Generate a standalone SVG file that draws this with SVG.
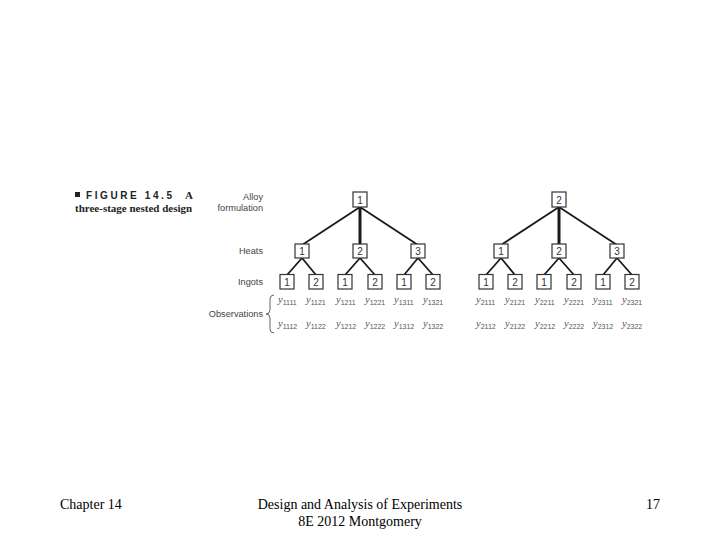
<svg xmlns="http://www.w3.org/2000/svg" width="720" height="540" viewBox="0 0 720 540">
<style>
.box{fill:#fff;stroke:#333;stroke-width:1.2}
.num{font-family:"Liberation Sans",Arial,sans-serif;font-size:10px;fill:#333;text-anchor:middle}
.lbl{font-family:"Liberation Sans",Arial,sans-serif;font-size:9.2px;fill:#444;text-anchor:end}
.ln{stroke:#1a1a1a;stroke-width:1.8;fill:none}
.thick{stroke:#1a1a1a;stroke-width:3;fill:none}
.obs{font-family:"Liberation Serif","Times New Roman",serif;font-style:italic;font-size:10.5px;fill:#555}
.sub{font-family:"Liberation Sans",Arial,sans-serif;font-style:normal;font-size:7px}
.foot{font-family:"Liberation Serif","Times New Roman",serif;font-size:14px;fill:#000}
</style>
<rect width="720" height="540" fill="#fff"/>
<g id="caption">
<rect x="75" y="192" width="5" height="5" fill="#222"/>
<text x="86" y="199" font-family="Liberation Sans,Arial,sans-serif" font-weight="bold" font-size="10" letter-spacing="2.6" fill="#222">FIGURE 14.5</text>
<text x="185" y="199" font-family="Liberation Serif,Times New Roman,serif" font-weight="bold" font-size="11" fill="#222">A</text>
<text x="75" y="212" font-family="Liberation Serif,Times New Roman,serif" font-weight="bold" font-size="11" fill="#222">three-stage nested design</text>
</g>
<g id="labels">
<text class="lbl" x="263" y="200">Alloy</text>
<text class="lbl" x="263" y="211">formulation</text>
<text class="lbl" x="263" y="254">Heats</text>
<text class="lbl" x="263" y="285">Ingots</text>
<text class="lbl" x="263" y="317">Observations</text>
<path d="M274,295 Q270,295 270,299 L270,310 Q270,314 266,314 Q270,314 270,318 L270,329 Q270,333 274,333" fill="none" stroke="#555" stroke-width="0.9"/>
</g>
<g id="connectors">
<path class="ln" d="M360,207 L302,245 M360,207 L418,245"/>
<path class="thick" d="M360,207 L360,245"/>
<path class="ln" d="M302,258 L287,275 M302,258 L316,275 M360,258 L345,275 M360,258 L375,275 M418,258 L404,275 M418,258 L433,275"/>
<path class="ln" d="M559,207 L501,245 M559,207 L617,245"/>
<path class="thick" d="M559,207 L559,245"/>
<path class="ln" d="M501,258 L486,275 M501,258 L515,275 M559,258 L544,275 M559,258 L574,275 M617,258 L603,275 M617,258 L632,275"/>
</g>
<g id="a1"><rect class="box" x="353" y="192" width="14" height="15"/><text class="num" x="360" y="203.5">1</text></g>
<g id="a1h1"><rect class="box" x="295" y="244" width="14" height="14"/><text class="num" x="302" y="254.5">1</text></g>
<g id="a1h2"><rect class="box" x="353" y="244" width="14" height="14"/><text class="num" x="360" y="254.5">2</text></g>
<g id="a1h3"><rect class="box" x="411" y="244" width="14" height="14"/><text class="num" x="418" y="254.5">3</text></g>
<g id="a1h1i1"><rect class="box" x="280" y="274.5" width="14" height="14.5"/><text class="num" x="287" y="285.5">1</text></g>
<g id="a1h1i2"><rect class="box" x="309" y="274.5" width="14" height="14.5"/><text class="num" x="316" y="285.5">2</text></g>
<g id="a1h2i1"><rect class="box" x="338" y="274.5" width="14" height="14.5"/><text class="num" x="345" y="285.5">1</text></g>
<g id="a1h2i2"><rect class="box" x="368" y="274.5" width="14" height="14.5"/><text class="num" x="375" y="285.5">2</text></g>
<g id="a1h3i1"><rect class="box" x="397" y="274.5" width="14" height="14.5"/><text class="num" x="404" y="285.5">1</text></g>
<g id="a1h3i2"><rect class="box" x="426" y="274.5" width="14" height="14.5"/><text class="num" x="433" y="285.5">2</text></g>
<g id="a2"><rect class="box" x="552" y="192" width="14" height="15"/><text class="num" x="559" y="203.5">2</text></g>
<g id="a2h1"><rect class="box" x="494" y="244" width="14" height="14"/><text class="num" x="501" y="254.5">1</text></g>
<g id="a2h2"><rect class="box" x="552" y="244" width="14" height="14"/><text class="num" x="559" y="254.5">2</text></g>
<g id="a2h3"><rect class="box" x="610" y="244" width="14" height="14"/><text class="num" x="617" y="254.5">3</text></g>
<g id="a2h1i1"><rect class="box" x="479" y="274.5" width="14" height="14.5"/><text class="num" x="486" y="285.5">1</text></g>
<g id="a2h1i2"><rect class="box" x="508" y="274.5" width="14" height="14.5"/><text class="num" x="515" y="285.5">2</text></g>
<g id="a2h2i1"><rect class="box" x="537" y="274.5" width="14" height="14.5"/><text class="num" x="544" y="285.5">1</text></g>
<g id="a2h2i2"><rect class="box" x="567" y="274.5" width="14" height="14.5"/><text class="num" x="574" y="285.5">2</text></g>
<g id="a2h3i1"><rect class="box" x="596" y="274.5" width="14" height="14.5"/><text class="num" x="603" y="285.5">1</text></g>
<g id="a2h3i2"><rect class="box" x="625" y="274.5" width="14" height="14.5"/><text class="num" x="632" y="285.5">2</text></g>
<g id="observations">
<text class="obs" x="278" y="303">y<tspan class="sub" dy="1.5">1111</tspan></text>
<text class="obs" x="306" y="303">y<tspan class="sub" dy="1.5">1121</tspan></text>
<text class="obs" x="336" y="303">y<tspan class="sub" dy="1.5">1211</tspan></text>
<text class="obs" x="365" y="303">y<tspan class="sub" dy="1.5">1221</tspan></text>
<text class="obs" x="394" y="303">y<tspan class="sub" dy="1.5">1311</tspan></text>
<text class="obs" x="423" y="303">y<tspan class="sub" dy="1.5">1321</tspan></text>
<text class="obs" x="278" y="327">y<tspan class="sub" dy="1.5">1112</tspan></text>
<text class="obs" x="306" y="327">y<tspan class="sub" dy="1.5">1122</tspan></text>
<text class="obs" x="336" y="327">y<tspan class="sub" dy="1.5">1212</tspan></text>
<text class="obs" x="365" y="327">y<tspan class="sub" dy="1.5">1222</tspan></text>
<text class="obs" x="394" y="327">y<tspan class="sub" dy="1.5">1312</tspan></text>
<text class="obs" x="423" y="327">y<tspan class="sub" dy="1.5">1322</tspan></text>
<text class="obs" x="476" y="303">y<tspan class="sub" dy="1.5">2111</tspan></text>
<text class="obs" x="505" y="303">y<tspan class="sub" dy="1.5">2121</tspan></text>
<text class="obs" x="535" y="303">y<tspan class="sub" dy="1.5">2211</tspan></text>
<text class="obs" x="564" y="303">y<tspan class="sub" dy="1.5">2221</tspan></text>
<text class="obs" x="593" y="303">y<tspan class="sub" dy="1.5">2311</tspan></text>
<text class="obs" x="622" y="303">y<tspan class="sub" dy="1.5">2321</tspan></text>
<text class="obs" x="476" y="327">y<tspan class="sub" dy="1.5">2112</tspan></text>
<text class="obs" x="505" y="327">y<tspan class="sub" dy="1.5">2122</tspan></text>
<text class="obs" x="535" y="327">y<tspan class="sub" dy="1.5">2212</tspan></text>
<text class="obs" x="564" y="327">y<tspan class="sub" dy="1.5">2222</tspan></text>
<text class="obs" x="593" y="327">y<tspan class="sub" dy="1.5">2312</tspan></text>
<text class="obs" x="622" y="327">y<tspan class="sub" dy="1.5">2322</tspan></text>
</g>
<g id="footer">
<text class="foot" x="60" y="509">Chapter 14</text>
<text class="foot" x="360" y="509" text-anchor="middle">Design and Analysis of Experiments</text>
<text class="foot" x="360" y="526" text-anchor="middle">8E 2012 Montgomery</text>
<text class="foot" x="660" y="509" text-anchor="end">17</text>
</g>
</svg>
